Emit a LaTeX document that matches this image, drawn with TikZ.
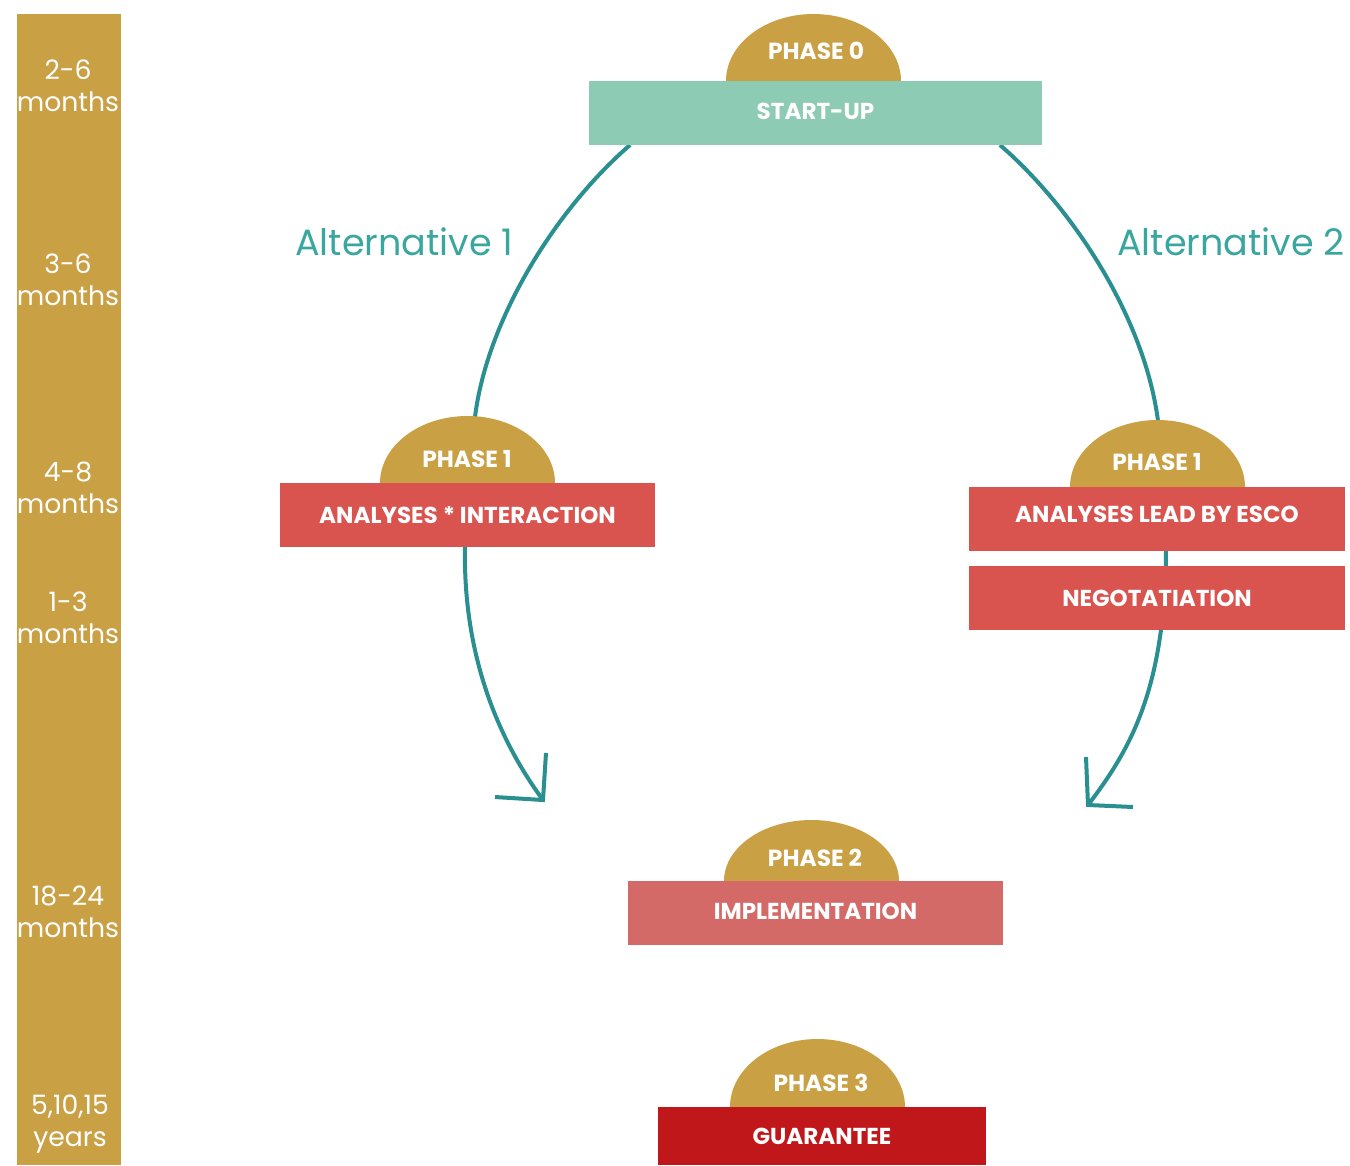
\documentclass[tikz,border=0pt]{standalone}
\usepackage{fontspec}
\setmainfont{Poppins}
\definecolor{gold}{HTML}{CAA045}
\definecolor{mint}{HTML}{8DCBB5}
\definecolor{redA}{HTML}{D9534F}
\definecolor{redB}{HTML}{D46A67}
\definecolor{redC}{HTML}{C0171A}
\definecolor{tealC}{HTML}{2A8F90}
\definecolor{tealT}{HTML}{3AA6A0}
\begin{document}
\begin{tikzpicture}[x=0.75pt,y=0.75pt,
  bar/.style={fill=gold,draw=none},
  monthtxt/.style={text=white,font=\fontsize{20}{24}\selectfont,align=center,inner sep=0pt},
  phasebox/.style={draw=none,minimum height=48pt,inner sep=0pt,text=white,font=\bfseries\fontsize{17.3}{19}\selectfont},
  dome/.style={fill=gold,draw=none},
  phasetxt/.style={text=white,font=\bfseries\fontsize{17.5}{19}\selectfont,inner sep=0pt},
  alttxt/.style={text=tealT,font=\fontsize{27.4}{30}\selectfont,inner sep=0pt},
  flow/.style={draw=tealC,line width=3pt},
  tip/.style={draw=tealC,line width=3pt,line join=miter}]
\useasboundingbox (0,0) rectangle (1350,-1165);
% time bar
\fill[bar] (17,-14) rectangle (121,-1165);
\node[monthtxt] (m1) at (68,-86) {2-6\\months};
\node[monthtxt] (m2) at (68,-280) {3-6\\months};
\node[monthtxt] (m3) at (68,-488) {4-8\\months};
\node[monthtxt] (m4) at (68,-618) {1-3\\months};
\node[monthtxt] (m5) at (68,-912) {18-24\\months};
\node[monthtxt] (m6) at (70,-1124) {5,10,15\\years};
% curve endpoints
\coordinate (a1s) at (630,-145);
\coordinate (a1e) at (475,-417);
\coordinate (b1s) at (465,-547);
\coordinate (b1e) at (543,-800);
\coordinate (a2s) at (1000,-145);
\coordinate (a2e) at (1158,-421);
\coordinate (b2s) at (1166,-551);
\coordinate (b2e) at (1088,-805);
\coordinate (t1a) at (495,-797);
\coordinate (t1b) at (546,-753);
\coordinate (t2a) at (1133,-807);
\coordinate (t2b) at (1086,-757);
% connectors
\draw[flow] (a1s) .. controls (555,-210) and (487,-320) .. (a1e);
\draw[flow] (b1s) .. controls (463,-650) and (495,-735) .. (b1e);
\draw[flow] (a2s) .. controls (1075,-210) and (1145,-320) .. (a2e);
\draw[flow] (b2s) .. controls (1165,-690) and (1130,-750) .. (b2e);
\draw[tip] (t1a) -- (b1e) -- (t1b);
\draw[tip] (t2b) -- (b2e) -- (t2a);
% labels
\node[alttxt,anchor=west] (alt1) at (295,-242) {Alternative 1};
\node[alttxt,anchor=west] (alt2) at (1117,-242) {Alternative 2};
% phase 0
\fill[dome] (726,-81) arc[start angle=180,end angle=0,x radius=87.5,y radius=67];
\node[phasetxt] (p0) at (816,-51) {PHASE 0};
\node[phasebox,fill=mint,minimum width=453*0.75pt] (start) at (815.5,-113) {\raisebox{3pt}{START-UP}};
% phase 1 left
\fill[dome] (380,-483) arc[start angle=180,end angle=0,x radius=87.5,y radius=67];
\node[phasetxt] (p1a) at (467,-459) {PHASE 1};
\node[phasebox,fill=redA,minimum width=375*0.75pt] (ana1) at (467.5,-515) {ANALYSES * INTERACTION};
% phase 1 right
\fill[dome] (1070,-487) arc[start angle=180,end angle=0,x radius=87.5,y radius=67];
\node[phasetxt] (p1b) at (1157,-462) {PHASE 1};
\node[phasebox,fill=redA,minimum width=376*0.75pt] (ana2) at (1157,-519) {\raisebox{7pt}{ANALYSES LEAD BY ESCO}};
\node[phasebox,fill=redA,minimum width=376*0.75pt] (nego) at (1157,-598) {NEGOTATIATION};
% phase 2
\fill[dome] (724,-881) arc[start angle=180,end angle=0,x radius=87.5,y radius=61];
\node[phasetxt] (p2) at (815,-858) {PHASE 2};
\node[phasebox,fill=redB,minimum width=375*0.75pt] (impl) at (815.5,-913) {\raisebox{3pt}{IMPLEMENTATION}};
% phase 3
\fill[dome] (730,-1107) arc[start angle=180,end angle=0,x radius=87.5,y radius=68];
\node[phasetxt] (p3) at (821,-1083) {PHASE 3};
\node[phasebox,fill=redC,minimum width=328*0.75pt,minimum height=43.5pt] (guar) at (822,-1136) {GUARANTEE};
\end{tikzpicture}
\end{document}
